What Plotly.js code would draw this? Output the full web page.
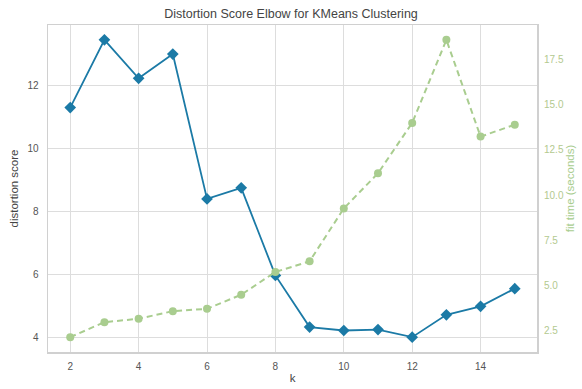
<!DOCTYPE html>
<html>
<head>
<meta charset="utf-8">
<script src="https://cdn.plot.ly/plotly-3.0.1.min.js"></script>
<style>
  html, body { margin: 0; padding: 0; background: #fff; }
  #chart { width: 582px; height: 389px; }
</style>
</head>
<body>
<div id="chart"></div>
<script>
// Number of clusters tried
const kValues = [2, 3, 4, 5, 6, 7, 8, 9, 10, 11, 12, 13, 14, 15];
// Distortion score for each k
const distortion = [11.30, 13.45, 12.23, 13.00, 8.40, 8.75, 5.97, 4.33, 4.22, 4.25, 4.01, 4.72, 4.99, 5.55];
// Time taken to fit each model (seconds)
const fitTime = [2.13, 2.96, 3.15, 3.57, 3.70, 4.48, 5.74, 6.33, 9.26, 11.21, 14.0, 18.6, 13.24, 13.9];

const xTicks = [2, 4, 6, 8, 10, 12, 14];
const yTicks = [4, 6, 8, 10, 12];
const y2Ticks = [2.5, 5.0, 7.5, 10.0, 12.5, 15.0, 17.5];

const blue = '#1b7aa6';
const green = '#a9cd8f';
const font = 'Liberation Sans, Arial, sans-serif';

// Pad each range by 5% of the data span, as the elbow plot does
function padded(arr) {
  const lo = Math.min(...arr), hi = Math.max(...arr), m = (hi - lo) * 0.05;
  return [lo - m, hi + m];
}

const traces = [
  {
    x: kValues, y: distortion, type: 'scatter', mode: 'lines+markers',
    line: { color: blue, width: 1.8 },
    marker: { symbol: 'diamond', size: 9, color: blue },
    yaxis: 'y', hoverinfo: 'x+y'
  },
  {
    x: kValues, y: fitTime, type: 'scatter', mode: 'lines+markers',
    line: { color: green, width: 2, dash: '6px,4px' },
    marker: { symbol: 'circle', size: 8, color: green },
    yaxis: 'y2', hoverinfo: 'x+y'
  }
];

const layout = {
  width: 582, height: 389,
  margin: { l: 48, r: 45, t: 25, b: 37 },
  paper_bgcolor: '#fff', plot_bgcolor: '#fff',
  showlegend: false,
  font: { family: font, size: 10, color: '#555' },
  title: {
    text: 'Distortion Score Elbow for KMeans Clustering',
    font: { family: font, size: 12.5, color: '#444' },
    x: 0.5, xanchor: 'center', y: 0.965, yanchor: 'middle'
  },
  xaxis: {
    range: padded(kValues), tickvals: xTicks, ticktext: xTicks.map(String),
    showgrid: true, gridcolor: '#dddddd', gridwidth: 1,
    zeroline: false, showline: true, linecolor: '#d0d0d0', linewidth: 1.5, mirror: true,
    ticks: '', ticklabelstandoff: 4,
    tickfont: { family: font, size: 10, color: '#555' },
    title: { text: 'k', font: { family: font, size: 11.5, color: '#444' }, standoff: 3 }
  },
  yaxis: {
    range: padded(distortion), tickvals: yTicks, ticktext: yTicks.map(String),
    showgrid: true, gridcolor: '#dddddd', gridwidth: 1,
    zeroline: false, showline: true, linecolor: '#d0d0d0', linewidth: 1.5, mirror: true,
    ticks: '', ticklabelstandoff: 6,
    tickfont: { family: font, size: 10, color: '#555' },
    title: { text: 'distortion score', font: { family: font, size: 11.5, color: '#444' }, standoff: 6 }
  },
  yaxis2: {
    overlaying: 'y', side: 'right',
    range: padded(fitTime), tickvals: y2Ticks, ticktext: y2Ticks.map(v => v.toFixed(1)),
    showgrid: false, zeroline: false, showline: false,
    ticks: '', ticklabelstandoff: 6,
    tickfont: { family: font, size: 10, color: '#b3c98f' },
    title: { text: 'fit time (seconds)', font: { family: font, size: 11.5, color: '#a9cd8f' }, standoff: 1 }
  }
};

Plotly.newPlot('chart', traces, layout, { displayModeBar: false, staticPlot: true });
</script>
</body>
</html>
